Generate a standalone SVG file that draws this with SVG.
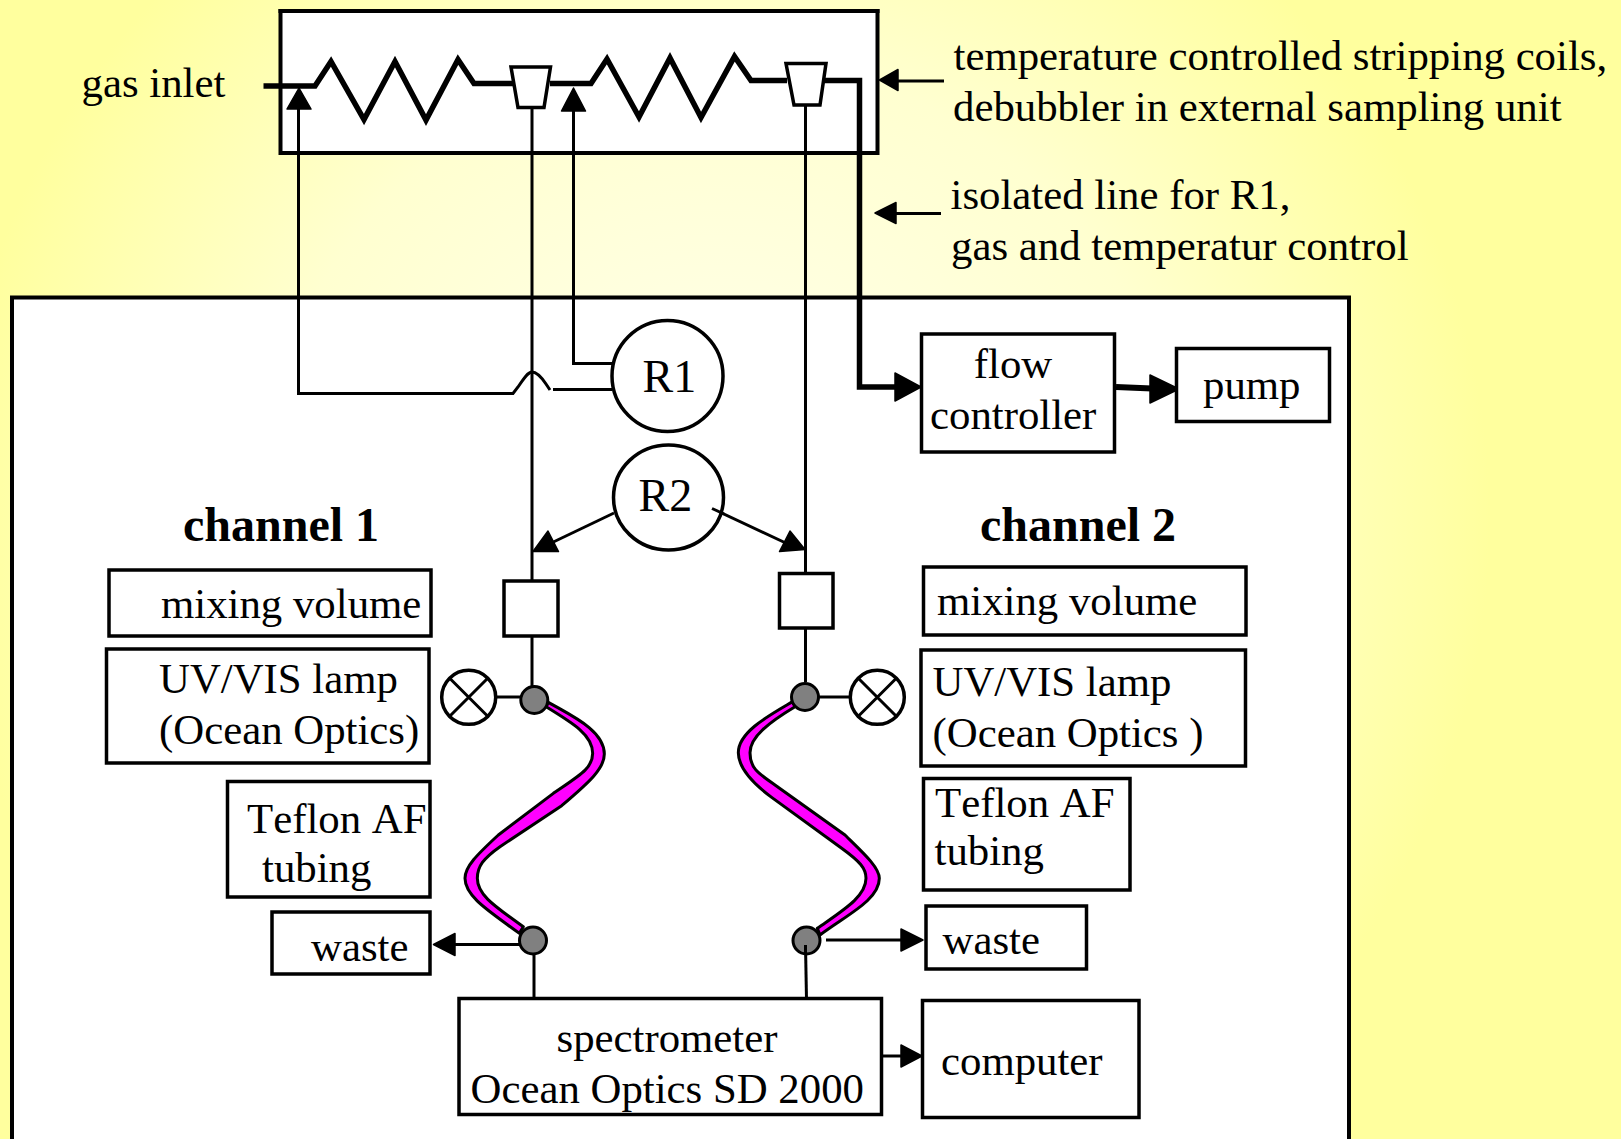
<svg xmlns="http://www.w3.org/2000/svg" width="1621" height="1139" viewBox="0 0 1621 1139">
<style>
text{font-family:"Liberation Serif","Times New Roman",serif;font-size:42.800px;fill:#000}
.b{font-weight:bold;font-size:48px}
.r{font-size:46px}
.k{font-kerning:none}
.box{fill:#fff;stroke:#000;stroke-width:3.500}
.l{fill:none;stroke:#000;stroke-width:3}
.h{fill:none;stroke:#000;stroke-width:5.500}
.a{fill:#000;stroke:#000;stroke-width:1.500;stroke-linejoin:round}
.n{fill:#808080;stroke:#000;stroke-width:3}
.t{fill:#f0f;stroke:#000;stroke-width:9;stroke-linejoin:round}
</style>
<defs>
<radialGradient id="bg" gradientUnits="userSpaceOnUse" cx="720" cy="520" r="770">
<stop offset="0" stop-color="#ffffef"/><stop offset="0.6" stop-color="#ffffd0"/><stop offset="1" stop-color="#ffff9e"/>
</radialGradient>
</defs>
<rect width="1621" height="1139" fill="url(#bg)"/>
<g id="sampling-unit"><rect x="280.500" y="11" width="597" height="142" fill="#fff" stroke="#000" stroke-width="4"/><path d="M278.500 11H879.500" stroke="#000" stroke-width="4" fill="none"/></g>
<g id="instrument-box"><rect x="12" y="297.500" width="1337" height="860" class="box" style="stroke-width:4"/></g>
<g id="connectors">
<path class="l" d="M298.500 108V393.500H513L518 387C524 378 528 372 532 372C537 372 542 378 546 384L550 390"/>
<path class="l" d="M553 389.500H612"/>
<path class="l" d="M573.500 110V363.500H612"/>
<path class="l" d="M532 107V581"/>
<path class="l" d="M805.500 105V574"/>
<path class="h" d="M263.500 86H315L331 61.500L364 119.500L395 61.500L426 120L458 59.500L474 83.500H513"/>
<path class="h" d="M550 83.500H591L607 59L639 117L670 58L701 117.500L734.500 56.500L751 80.500H787"/>
<path class="h" d="M824 80.500H859.500V387H897"/>
<path class="a" d="M299 88L311 109H287Z"/>
<path class="a" d="M573.500 88L585.500 111H561.500Z"/>
<path class="l" d="M895 81H944"/>
<path class="a" d="M879.500 80L898 69.500V90.500Z"/>
<path class="l" d="M892 213.500H941"/>
<path class="a" d="M875 213L896 202.500V223.500Z"/>
<path class="a" d="M921 387L895 373V401Z"/>
<path d="M1116 387L1152 388.500" fill="none" stroke="#000" stroke-width="6"/>
<path class="a" d="M1179 389L1150 375V403Z"/>
<path class="l" d="M614 513L545 546"/>
<path class="a" d="M533 551.500L548 531L558.500 551.500Z"/>
<path class="l" d="M712 508.500L790 545"/>
<path class="a" d="M805 549.500L790 531L779.500 551.500Z"/>
<path class="l" d="M532 636V688"/>
<path class="l" d="M805.500 628V682"/>
<path class="l" d="M496.500 697H521"/>
<path class="l" d="M819 697H850"/>
<path class="l" d="M534 955V998"/>
<path class="l" d="M805.500 945L806.500 1000"/>
<path class="l" d="M455 944.500H520"/>
<path class="a" d="M433.500 944.500L455 933.500V955.500Z"/>
<path class="l" d="M826 940H902"/>
<path class="a" d="M923 940L901 929V951Z"/>
<path class="l" d="M882 1056H902"/>
<path class="a" d="M922 1056L901 1045V1067Z"/>
</g>
<g id="funnel-1"><path d="M511 67H550.500L544 107.500H518Z" fill="#fff" stroke="#000" stroke-width="3.500"/></g>
<g id="funnel-2"><path d="M786 63.500H826L820 105H794Z" fill="#fff" stroke="#000" stroke-width="3.500"/></g>
<g id="tubing-1" transform="translate(420 640) scale(.33333)"><path class="t" d="M385 187C450 225 553 270 553 342C553 385 510 425 425 497L240 620C190 655 172 680 172 715C172 760 210 790 310 860L298 880C210 815 135 770 135 715C135 680 170 645 235 585L400 460C480 405 518 385 518 340C518 285 460 250 378 200Z"/></g>
<g id="tubing-2" transform="translate(420 640) scale(.33333)"><path class="t" d="M1118 185C1050 225 955 275 955 338C955 385 1005 435 1055 472L1265 625C1320 665 1338 685 1338 715C1338 770 1270 810 1192 865L1200 885C1280 825 1378 780 1378 715C1378 680 1320 630 1275 585L1065 435C1015 400 990 385 990 338C990 290 1050 245 1125 200Z"/></g>
<g id="node-1"><circle class="n" cx="534.300" cy="700" r="13.500"/></g>
<g id="node-2"><circle class="n" cx="805" cy="697" r="13.500"/></g>
<g id="node-3"><circle class="n" cx="533" cy="940.500" r="13.500"/></g>
<g id="node-4"><circle class="n" cx="806.500" cy="940.500" r="13.500"/></g>
<path class="l" d="M805.500 945V955"/>
<g id="lamp-1"><circle class="box" cx="468.700" cy="697.300" r="27"/><path class="l" d="M449.700 678.300L487.700 716.300M487.700 678.300L449.700 716.300"/></g>
<g id="lamp-2"><circle class="box" cx="877.300" cy="697.300" r="27"/><path class="l" d="M858.300 678.300L896.300 716.300M896.300 678.300L858.300 716.300"/></g>
<g id="r1"><ellipse class="box" cx="667.500" cy="376" rx="55.500" ry="55.500"/><text class="r" x="642.500" y="392">R1</text></g>
<g id="r2"><ellipse class="box" cx="668.500" cy="497.500" rx="55" ry="52.500"/><text class="r" x="638.500" y="511">R2</text></g>
<path class="l" d="M712 508.500L724 514"/>
<g id="gas-inlet"><text x="81.500" y="97">gas inlet</text></g>
<g id="label-coils"><text x="953.500" y="70">temperature controlled stripping coils,</text><text x="953" y="121">debubbler in external sampling unit</text></g>
<g id="label-isolated"><text x="950.500" y="209">isolated line for R1,</text><text x="951" y="260">gas and temperatur control</text></g>
<g id="flow-controller"><rect class="box" x="921.500" y="334" width="193" height="118"/><text x="1013" y="378" text-anchor="middle">flow</text><text x="930" y="429">controller</text></g>
<g id="pump"><rect class="box" x="1176.500" y="348.500" width="153" height="73"/><text x="1203" y="399">pump</text></g>
<g id="channel-1"><text class="b" x="183" y="541">channel 1</text></g>
<g id="channel-2"><text class="b" x="980" y="541">channel 2</text></g>
<g id="mixing-1"><rect class="box" x="109" y="570" width="322" height="66"/><text x="161" y="618">mixing volume</text></g>
<g id="mixing-2"><rect class="box" x="923.500" y="567" width="322.500" height="68"/><text x="937" y="615">mixing volume</text></g>
<g id="square-1"><rect class="box" x="504" y="581" width="54" height="55"/></g>
<g id="square-2"><rect class="box" x="779.500" y="573.500" width="53.500" height="54.500"/></g>
<g id="uv-1"><rect class="box" x="106.500" y="649" width="322.500" height="114"/><text x="159" y="692.500">UV/VIS lamp</text><text x="159" y="744">(Ocean Optics)</text></g>
<g id="uv-2"><rect class="box" x="921" y="650" width="324.500" height="116"/><text x="932.500" y="696">UV/VIS lamp</text><text x="932.500" y="747">(Ocean Optics )</text></g>
<g id="teflon-1"><rect class="box" x="227.500" y="781.500" width="202.500" height="115.500"/><text class="k" x="247" y="833">Teflon AF</text><text x="262" y="881.500">tubing</text></g>
<g id="teflon-2"><rect class="box" x="923.500" y="778.500" width="206.500" height="111.500"/><text class="k" x="935" y="817">Teflon AF</text><text x="934.500" y="865">tubing</text></g>
<g id="waste-1"><rect class="box" x="272" y="912" width="158" height="62"/><text x="311" y="961">waste</text></g>
<g id="waste-2"><rect class="box" x="926" y="906" width="160.500" height="63"/><text x="942.500" y="954">waste</text></g>
<g id="spectrometer"><rect class="box" x="459" y="998.500" width="422.500" height="116"/><text x="667" y="1052" text-anchor="middle">spectrometer</text><text x="470.500" y="1103">Ocean Optics SD 2000</text></g>
<g id="computer"><rect class="box" x="922.500" y="1000.500" width="216.500" height="117"/><text x="941" y="1075">computer</text></g>
</svg>
